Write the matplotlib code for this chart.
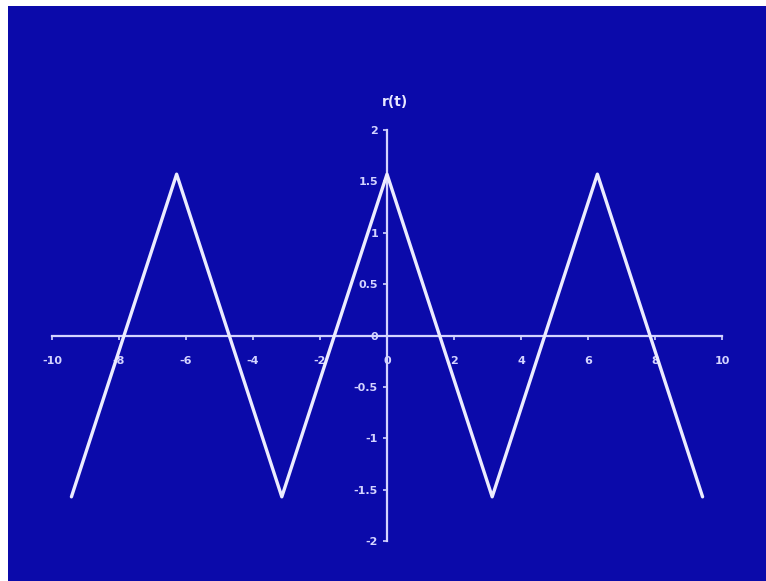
import matplotlib
matplotlib.use("Agg")
import matplotlib.pyplot as plt
from matplotlib.patches import Rectangle

# triangle wave vertices
t = [-9.42, -6.28, -3.14, 0.0, 3.14, 6.28, 9.42]
r = [-1.57, 1.57, -1.57, 1.57, -1.57, 1.57, -1.57]

xticks = [-10, -8, -6, -4, -2, 0, 2, 4, 6, 8, 10]
yticks = [-2, -1.5, -1, -0.5, 0, 0.5, 1, 1.5, 2]
ylabels = ['-2', '-1.5', '-1', '-0.5', '0', '0.5', '1', '1.5', '2']

bg = '#0b0aaa'
fg = '#d4d4ff'

W, H = 766, 581
fig = plt.figure(figsize=(W / 100, H / 100), dpi=100, facecolor='white')
fig.patches.append(Rectangle((8 / W, 0), 1 - 8 / W, (H - 6) / H,
                             transform=fig.transFigure, facecolor=bg,
                             edgecolor='none', zorder=0))

ax = fig.add_axes([52 / W, 1 - 541 / H, 670 / W, 411 / H])
ax.set_zorder(2)
ax.patch.set_visible(False)
ax.plot(t, r, color='#ececff', lw=2.4, solid_joinstyle='round',
        solid_capstyle='round', zorder=3)

ax.set_xlim(-10, 10)
ax.set_ylim(-2, 2)
for s in ['top', 'right']:
    ax.spines[s].set_visible(False)
for s in ['left', 'bottom']:
    ax.spines[s].set_position(('data', 0))
    ax.spines[s].set_color(fg)
    ax.spines[s].set_linewidth(1.6)

ax.set_xticks(xticks)
ax.set_xticklabels([str(v) for v in xticks])
ax.set_yticks(yticks)
ax.set_yticklabels(ylabels)
ax.tick_params(colors=fg, length=3, width=1.2, labelsize=8)
ax.tick_params(axis='x', pad=12)
for lab in ax.get_xticklabels() + ax.get_yticklabels():
    lab.set_fontweight('bold')

fig.text(395 / W, 1 - 102 / H, 'r(t)', color='#e8e8ff', fontsize=10,
         fontweight='bold', ha='center', va='center')

fig.savefig('out.png', dpi=100, facecolor='white')
